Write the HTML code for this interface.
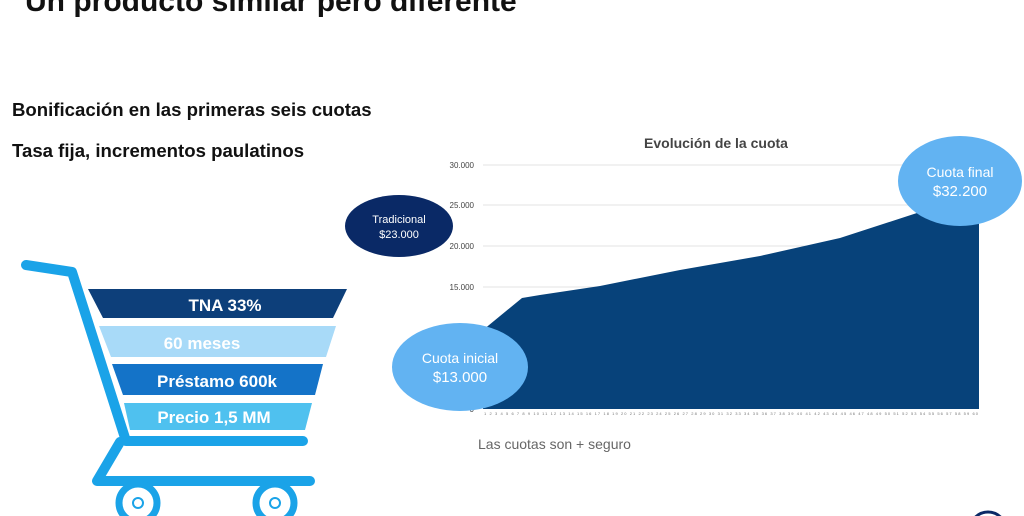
<!DOCTYPE html><html><head><meta charset="utf-8"><style>
html,body{margin:0;width:1024px;height:516px;overflow:hidden;background:#fff;font-family:"Liberation Sans",sans-serif;position:relative}
.t{position:absolute;white-space:nowrap}
</style></head><body>
<div class="t" style="left:25px;top:-15px;font-size:30px;font-weight:bold;color:#111">Un producto similar pero diferente</div>
<div class="t" style="left:12px;top:99px;font-size:18.6px;font-weight:bold;color:#111">Bonificación en las primeras seis cuotas</div>
<div class="t" style="left:12px;top:140px;font-size:18.6px;font-weight:bold;color:#111">Tasa fija, incrementos paulatinos</div>
<svg width="1024" height="516" style="position:absolute;left:0;top:0;overflow:hidden">
<g stroke="#e3e3e3" stroke-width="1">
<line x1="483" x2="979" y1="165" y2="165"/><line x1="483" x2="979" y1="205" y2="205"/><line x1="483" x2="979" y1="246" y2="246"/><line x1="483" x2="979" y1="287" y2="287"/><line x1="483" x2="979" y1="327" y2="327"/>
</g>
<g font-size="8" fill="#444" text-anchor="end">
<text x="474" y="168">30.000</text><text x="474" y="208">25.000</text><text x="474" y="249">20.000</text><text x="474" y="290">15.000</text><text x="474" y="330">10.000</text><text x="474" y="412">0</text>
</g>
<text x="716" y="148" font-size="14" font-weight="bold" fill="#444" text-anchor="middle">Evolución de la cuota</text>
<path d="M483 330 L522 298 L540 295 L600 286 L640 278 L680 270 L720 263 L760 256 L800 247 L840 238 L880 225 L920 212 L945 203 L979 195 L979 409 L483 409Z" fill="#07427a"/>
<text x="731" y="415" font-size="4" fill="#777" text-anchor="middle" textLength="494">1 2 3 4 5 6 7 8 9 10 11 12 13 14 15 16 17 18 19 20 21 22 23 24 25 26 27 28 29 30 31 32 33 34 35 36 37 38 39 40 41 42 43 44 45 46 47 48 49 50 51 52 53 54 55 56 57 58 59 60</text>
<ellipse cx="399" cy="226" rx="54" ry="31" fill="#0a2966"/>
<text x="399" y="223" font-size="11" fill="#fff" text-anchor="middle">Tradicional</text>
<text x="399" y="238" font-size="11" fill="#fff" text-anchor="middle">$23.000</text>
<ellipse cx="460" cy="367" rx="68" ry="44" fill="#62b3f2"/>
<text x="460" y="363" font-size="14" fill="#fff" text-anchor="middle">Cuota inicial</text>
<text x="460" y="382" font-size="15" fill="#fff" text-anchor="middle">$13.000</text>
<ellipse cx="960" cy="181" rx="62" ry="45" fill="#62b3f2"/>
<text x="960" y="177" font-size="14" fill="#fff" text-anchor="middle">Cuota final</text>
<text x="960" y="196" font-size="15" fill="#fff" text-anchor="middle">$32.200</text>
<text x="478" y="449" font-size="14" fill="#666">Las cuotas son + seguro</text>
<g stroke="#1aa3e8" stroke-width="10" fill="none" stroke-linecap="round" stroke-linejoin="round">
<polyline points="26,265 72,272 126,441 303,441"/>
<polyline points="120,442 97,481 310,481"/>
</g>
<g stroke="#1aa3e8" stroke-width="7" fill="#fff"><circle cx="138" cy="503" r="19"/><circle cx="275" cy="503" r="19"/></g>
<circle cx="138" cy="503" r="5" fill="none" stroke="#1aa3e8" stroke-width="2"/><circle cx="275" cy="503" r="5" fill="none" stroke="#1aa3e8" stroke-width="2"/>
<polygon points="88,289 347,289 333,318 103,318" fill="#0d3f7a"/>
<polygon points="99,326 336,326 326,357 111,357" fill="#a8daf8"/>
<polygon points="112,364 323,364 315,395 123,395" fill="#1473c8"/>
<polygon points="124,403 312,403 305,430 130,430" fill="#4fc1ef"/>
<g font-weight="bold" fill="#fff" text-anchor="middle">
<text x="225" y="311" font-size="17">TNA 33%</text>
<text x="202" y="349" font-size="17">60 meses</text>
<text x="217" y="387" font-size="17">Préstamo 600k</text>
<text x="214" y="423" font-size="17">Precio 1,5 MM</text>
</g>
<circle cx="988" cy="530" r="18" fill="none" stroke="#0a2966" stroke-width="3"/>
</svg>
</body></html>
